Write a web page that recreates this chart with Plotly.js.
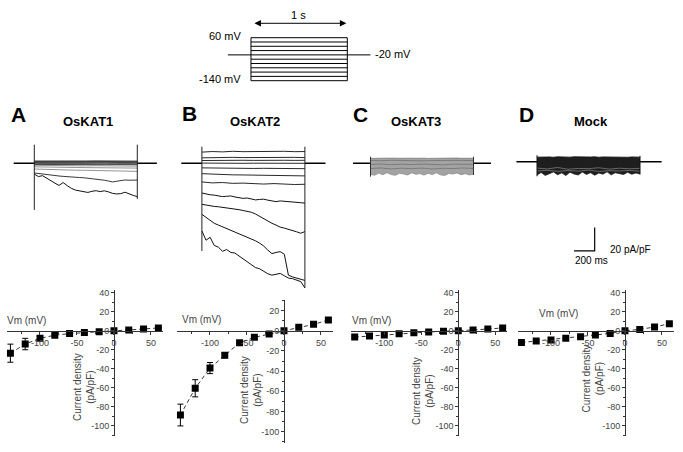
<!DOCTYPE html>
<html>
<head>
<meta charset="utf-8">
<script src="https://cdn.plot.ly/plotly-3.0.1.min.js"></script>
<style>
  body { margin: 0; background: #fff; }
  #fig { width: 683px; height: 452px; }
</style>
</head>
<body>
<div id="fig"></div>
<script>
// ---- voltage protocol ----
var protoSteps = [60, 40, 20, 0, -20, -40, -60, -80, -100, -120, -140];
var protoHold = -20;
var protoPulse = [0, 1];
var protoPre = [-0.24, 0];
var protoPost = [1, 1.24];

// ---- current traces (pA/pF vs s) ----
var tFine = [0,0.04,0.08,0.12,0.16,0.2,0.24,0.28,0.32,0.36,0.4,0.44,0.48,0.52,0.56,0.6,0.64,0.68,0.72,0.76,0.8,0.84,0.88,0.92,0.96,1];
var tCoarse = [0,0.1,0.2,0.3,0.4,0.5,0.6,0.7,0.8,0.9,1];

// OsKAT1
var a0 = [2.0,1.9,2.1,2.0,1.9,2.0,2.1,1.9,2.0,2.0,1.9];
var a1 = [1.5,1.4,1.6,1.5,1.4,1.5,1.6,1.4,1.5,1.5,1.4];
var a2 = [0.8,0.9,0.8,1.0,0.9,0.8,0.9,1.0,0.8,0.9,0.9];
var a3 = [0.3,0.2,0.4,0.3,0.2,0.3,0.4,0.3,0.2,0.3,0.3];
var a4 = [-0.4,-0.3,-0.5,-0.4,-0.3,-0.4,-0.5,-0.3,-0.4,-0.4,-0.5];
var a5 = [-1.0,-1.1,-0.9,-1.1,-1.2,-1.0,-1.1,-1.2,-1.1,-1.2,-1.2];
var a6 = [-1.7,-1.9,-2.0,-2.0,-2.1,-2.2,-2.1,-2.3,-2.2,-2.3,-2.4];
var a7 = [-3.0,-3.3,-3.4,-3.5,-3.6,-3.7,-3.8,-3.9,-4.0,-4.0,-4.1];
var a8 = [-4.9,-5.3,-5.5,-5.7,-5.9,-6.0,-6.2,-6.4,-6.6,-6.7,-6.9];
var a9 = [-8.3,-8.8,-9.4,-9.5,-9.9,-10.6,-10.9,-11.2,-11.3,-11.6,-12.0,-12.2,-12.4,-12.8,-13.0,-13.3,-13.9,-14.5,-15.2,-16.0,-15.4,-14.6,-14.3,-14.5,-14.2,-14.4];
var a10 = [-9.2,-11.4,-10.6,-12.5,-15.0,-17.0,-19.0,-16.5,-19.2,-21.5,-23.0,-23.5,-24.5,-25.0,-24.0,-23.5,-24.3,-23.6,-24.5,-25.8,-26.3,-26.0,-24.8,-26.5,-27.5,-28.6];
var spikeA = [[16, -40], [16, -30.6]];

// OsKAT2
var b0 = [9.6,10.1,9.8,10.3,10.0,10.2,9.9,10.1,10.3,10.0,10.1];
var b1 = [4.7,5.0,4.8,5.1,4.9,5.0,5.2,4.9,5.0,5.1,4.9];
var b2 = [2.4,2.6,2.5,2.4,2.6,2.5,2.7,2.5,2.6,2.5,2.6];
var b3 = [0.2,0,0.1,-0.1,0,0.1,0,-0.1,0.1,0,0];
var b4 = [-3.9,-4.1,-4.2,-4.3,-4.2,-4.4,-4.3,-4.5,-4.4,-4.5,-4.6];
var b5 = [-8.9,-9.4,-9.6,-9.9,-10.0,-10.2,-10.1,-10.4,-10.5,-10.6,-10.8];
var b6 = [-16.0,-16.8,-16.5,-17.2,-17.0,-17.5,-17.8,-17.4,-18.0,-18.2,-18.0];
var b7 = [-25.5,-26.4,-27.0,-27.3,-27.8,-28.6,-28.3,-28.0,-28.9,-29.6,-30.1,-29.8,-30.6,-31.4,-31.0,-30.8,-31.6,-32.4,-32.9,-32.3,-32.5,-32.9,-33.2,-33.0,-33.8,-34.2];
var b8 = [-35.2,-36.0,-36.5,-37.0,-37.3,-37.8,-38.0,-38.3,-39.2,-39.8,-40.5,-41.0,-42.0,-43.5,-45.5,-47.8,-49.5,-51.5,-53.0,-54.8,-55.6,-56.5,-57.8,-58.8,-60.0,-58.6];
var b9 = [-43.8,-46.5,-49.0,-51.5,-53.0,-54.5,-56.0,-57.0,-58.5,-60.0,-61.5,-63.0,-65.0,-66.5,-68.5,-71.0,-74.5,-77.5,-76.5,-75.8,-78.0,-96.0,-97.5,-98.5,-99.0,-100.5];
var b10 = [-58.0,-66.0,-63.5,-70.5,-72.0,-75.5,-74.0,-76.5,-77.0,-79.5,-81.5,-84.5,-87.0,-89.5,-90.5,-93.0,-94.8,-96.0,-95.2,-94.5,-96.5,-98.5,-99.0,-100.5,-101.5,-107.0];
var spikeB = [[14.3, -75.3], [14.3, -106.7]];

// OsKAT3 (band of overlapping traces)
var cTop = [4.2,4.5,4.3,4.4,4.2,4.5,4.4,4.3,4.5,4.2,4.4,4.3,4.5,4.4,4.2,4.3,4.5,4.4,4.3,4.2,4.4,4.5,4.3,4.4,4.2,4.3];
var cBot = [-9.5,-10.2,-8.4,-9.8,-8.0,-9.6,-10.3,-8.6,-9.1,-10.0,-8.2,-9.4,-8.8,-10.1,-8.5,-9.7,-8.1,-9.9,-10.4,-8.7,-9.2,-8.3,-9.8,-8.9,-10.0,-9.3];
var cL1 = [2.5,2.2,2.6,2.3,2.5,2.1,2.4,2.6,2.2,2.5,2.3];
var cL2 = [-1.0,-0.6,-1.2,-0.8,-1.1,-0.7,-1.0,-1.3,-0.8,-1.0,-0.9];
var cL3 = [-4.5,-4.0,-4.8,-4.2,-4.6,-4.1,-4.9,-4.3,-4.5,-4.0,-4.4];
var spikeC = [[5.7, -11.5], [5.7, -10.0]];

// Mock
var dTop = [3.9,4.2,4.0,4.1,3.8,4.2,4.0,4.1,3.9,4.2,4.0,4.1,3.9,4.0,4.2,3.8,4.1,4.0,4.2,3.9,4.1,4.0,3.8,4.1,4.0,3.9];
var dBot = [-11.5,-9.2,-11.8,-10.0,-8.8,-11.2,-9.6,-11.9,-9.0,-10.6,-11.4,-8.9,-10.9,-9.4,-11.6,-9.8,-10.7,-8.7,-11.3,-9.5,-10.4,-11.0,-9.1,-10.8,-9.7,-10.5];
var dL1 = [-5.5,-6.2,-5.0,-6.5,-5.8,-6.0,-5.2,-6.4,-5.6,-6.1,-5.7];
var dL2 = [-8.0,-7.4,-8.3,-7.6,-8.1,-7.2,-8.4,-7.7,-8.0,-7.5,-8.2];
var spikeD = [[5.5, -12.5], [5.0, -11.0]];

var holdA = [-0.2, 1.19], holdB = [-0.2, 1.2], holdC = [-0.17, 1.17], holdD = [-0.2, 1.21];
var scaleT = [0.36, 0.56, 0.56];
var scaleI = [-76.5, -76.5, -56.5];

// ---- I-V curves ----
var vm = [-140, -120, -100, -80, -60, -40, -20, 0, 20, 40, 60];
var ivA = [-23.5, -13.9, -7.9, -4.6, -2.9, -1.7, -0.9, 0, 0.9, 1.8, 3.0];
var errA = [9.5, 6, 2.2, 1, 0.6, 0.5, 0.3, 0.3, 0.3, 0.4, 0.5];
var ivB = [-83.5, -57, -37, -24.4, -11.9, -6.6, -3.3, 0, 3.4, 6.3, 10.6];
var errB = [10.8, 8.5, 5.5, 2.5, 1.2, 0.8, 0.5, 0.3, 0.5, 0.8, 1];
var ivC = [-6.6, -5.4, -4.4, -3.0, -2.0, -1.2, -0.5, 0, 0.9, 1.9, 3.0];
var errC = [1, 0.8, 0.7, 0.5, 0.4, 0.3, 0.3, 0.2, 0.3, 0.4, 0.5];
var ivD = [-12.3, -10.6, -9.6, -7.9, -6.1, -4.4, -2.7, 0, 1.5, 4.0, 7.5];
var errD = [1.2, 1, 0.9, 0.8, 0.6, 0.5, 0.4, 0.3, 0.4, 0.5, 0.8];

var data = [];
function line(ax, x, y, color, width, extra) {
  var t = {x: x, y: y, xaxis: 'x' + ax, yaxis: 'y' + ax, mode: 'lines',
           line: {color: color, width: width}, hoverinfo: 'skip'};
  if (extra) for (var k in extra) t[k] = extra[k];
  data.push(t);
}

// protocol
protoSteps.forEach(function (v) { line('', protoPulse, [v, v], '#000', 1); });
line('', [0, 0], [protoSteps[10], protoSteps[0]], '#000', 1);
line('', [1, 1], [protoSteps[10], protoSteps[0]], '#000', 1);
line('', protoPre, [protoHold, protoHold], '#000', 1);
line('', protoPost, [protoHold, protoHold], '#000', 1);

function holding(ax, h) {
  line(ax, [h[0], 0], [0, 0], '#000', 1.5);
  line(ax, [1, h[1]], [0, 0], '#000', 1.5);
}
function spikes(ax, s, c) {
  line(ax, [0, 0], s[0], c, 1);
  line(ax, [1, 1], s[1], c, 1);
}

// A
[a0, a1, a2, a3, a4, a5].forEach(function (y) { line(2, tCoarse, y, '#333', 0.9); });
[a6, a7, a8].forEach(function (y) { line(2, tCoarse, y, '#777', 0.8); });
line(2, tFine, a9, '#222', 0.9);
line(2, tFine, a10, '#111', 1);
holding(2, holdA); spikes(2, spikeA, '#222');

// B
[b0, b1, b2, b3, b4, b5, b6].forEach(function (y) { line(3, tCoarse, y, '#111', 0.9); });
[b7, b8, b9, b10].forEach(function (y) { line(3, tFine, y, '#111', 1); });
holding(3, holdB); spikes(3, spikeB, '#222');

// C
line(4, tFine, cBot, '#8c8c8c', 0.8);
line(4, tFine, cTop, '#777', 0.8, {fill: 'tonexty', fillcolor: '#a3a3a3'});
[cL1, cL2, cL3].forEach(function (y) { line(4, tCoarse, y, '#6a6a6a', 0.7); });
holding(4, holdC); spikes(4, spikeC, '#333');

// D
line(5, tFine, dBot, '#222', 0.8);
line(5, tFine, dTop, '#111', 0.8, {fill: 'tonexty', fillcolor: '#1e1e1e'});
[dL1, dL2].forEach(function (y) { line(5, tCoarse, y, '#9a9a9a', 0.6); });
holding(5, holdD); spikes(5, spikeD, '#111');
line(5, scaleT, scaleI, '#000', 1.2);

// IV curves
[[6, ivA, errA], [7, ivB, errB], [8, ivC, errC], [9, ivD, errD]].forEach(function (p) {
  data.push({
    x: vm, y: p[1], xaxis: 'x' + p[0], yaxis: 'y' + p[0],
    mode: 'lines+markers', hoverinfo: 'skip',
    line: {color: '#000', width: 0.8, dash: '4px,3px'},
    marker: {symbol: 'square', size: 7, color: '#000'},
    error_y: {type: 'data', array: p[2], visible: true, color: '#000', thickness: 1, width: 3}
  });
});

var W = 683, H = 452;
function px(a, b) { return [a / W, b / W]; }
function py(top, bot) { return [1 - bot / H, 1 - top / H]; }
function hidden(dom, range) { return {domain: dom, range: range, visible: false, fixedrange: true}; }

var tickFont = {family: 'Liberation Sans, Arial, sans-serif', size: 9, color: '#444'};
function ivX(dom, posPx) {
  return {domain: dom, range: [-145, 66], anchor: 'free', position: 1 - posPx / H,
    showline: true, linecolor: '#333', linewidth: 1, showgrid: false, zeroline: false,
    ticks: 'outside', ticklen: 3, tickcolor: '#333',
    tickvals: [-100, -50, 0, 50], ticktext: ['-100', '-50', '0', '50'], tickfont: tickFont,
    minor: {ticks: 'outside', ticklen: 2, dtick: 25, tickcolor: '#333'}};
}
function ivY(dom, range, posPx, vals) {
  return {domain: dom, range: range, anchor: 'free', position: posPx / W,
    showline: true, linecolor: '#333', linewidth: 1, showgrid: false, zeroline: false,
    ticks: 'outside', ticklen: 3, tickcolor: '#333',
    tickvals: vals, ticktext: vals.map(function (v) { return String(v); }), tickfont: tickFont,
    minor: {ticks: 'outside', ticklen: 2, dtick: 10, tickcolor: '#333'}};
}
var yValsTall = [40, 20, 0, -20, -40, -60, -80, -100];
var yValsB = [20, 0, -20, -40, -60, -80, -100];

var trY = py(135, 298);
var trRange = [-115.6, 24.3];
var ivDom = py(289.9, 435.5);

var layout = {
  width: W, height: H, margin: {l: 0, r: 0, t: 0, b: 0},
  paper_bgcolor: '#fff', plot_bgcolor: 'rgba(0,0,0,0)', showlegend: false,
  font: {family: 'Liberation Sans, Arial, sans-serif', color: '#000'},
  xaxis: hidden(px(226.9, 371.4), [-0.25, 1.25]),
  yaxis: hidden(py(10, 88), [-174, 188.8]),
  xaxis2: hidden(px(8.55, 163.05), [-0.25, 1.25]), yaxis2: hidden(trY, trRange),
  xaxis3: hidden(px(176.15, 330.65), [-0.25, 1.25]), yaxis3: hidden(trY, trRange),
  xaxis4: hidden(px(344.75, 499.25), [-0.25, 1.25]), yaxis4: hidden(trY, trRange),
  xaxis5: hidden(px(511.25, 665.75), [-0.25, 1.25]), yaxis5: hidden(trY, [-117, 22.9]),
  xaxis6: ivX(px(6.7, 162.8), 330.8), yaxis6: ivY(ivDom, [-110, 43], 114, yValsTall),
  xaxis7: ivX(px(176.7, 332.8), 330.7), yaxis7: ivY(py(300.4, 442.8), [-111, 30], 284, yValsB),
  xaxis8: ivX(px(351, 507.1), 330.8), yaxis8: ivY(ivDom, [-110, 43], 458.3, yValsTall),
  xaxis9: ivX(px(517.7, 673.8), 331), yaxis9: ivY(ivDom, [-110, 43], 625, yValsTall),
  annotations: []
};

function txt(x, y, s, size, opts) {
  var a = {xref: 'paper', yref: 'paper', x: x / W, y: 1 - y / H, text: s, showarrow: false,
           xanchor: 'center', yanchor: 'middle', font: {size: size, color: '#000'}};
  if (opts) for (var k in opts) a[k] = opts[k];
  layout.annotations.push(a);
}

// protocol labels and arrow
layout.annotations.push({xref: 'x', yref: 'y', axref: 'x', ayref: 'y', x: 0.99, y: 127, ax: 0.02, ay: 127,
  text: '', showarrow: true, arrowside: 'end+start', arrowhead: 2, startarrowhead: 2,
  arrowsize: 1.3, startarrowsize: 1.3, arrowwidth: 1, arrowcolor: '#000', standoff: 0, startstandoff: 0});
txt(298, 15, '1 s', 11);
txt(243, 36, '60 mV', 11, {xanchor: 'right'});
txt(243, 79, '-140 mV', 11, {xanchor: 'right'});
txt(373, 54, '-20 mV', 11, {xanchor: 'left'});

// panel letters and titles
var letterFont = 21;
txt(18, 114, '<b>A</b>', letterFont);
txt(189.5, 113, '<b>B</b>', letterFont);
txt(360, 114, '<b>C</b>', letterFont);
txt(526.7, 114, '<b>D</b>', letterFont);
txt(87.5, 122, '<b>OsKAT1</b>', 13);
txt(255.3, 121, '<b>OsKAT2</b>', 13);
txt(416, 122, '<b>OsKAT3</b>', 13);
txt(591.3, 121, '<b>Mock</b>', 13);

// scale bar labels
txt(608, 249, '20 pA/pF', 10, {xanchor: 'left'});
txt(591.5, 260, '200 ms', 10);

// IV axis labels
var labFont = 10;
[[26.5, 320, 84, 387], [201.5, 319, 251, 390], [371.5, 320, 423, 391], [558, 313, 592.5, 379]].forEach(function (p) {
  txt(p[0], p[1], 'Vm (mV)', labFont, {font: {size: labFont, color: '#444'}});
  txt(p[2], p[3], 'Current density<br>(pA/pF)', labFont, {textangle: -90, font: {size: labFont, color: '#444'}});
});

Plotly.newPlot('fig', data, layout, {staticPlot: true});
</script>
</body>
</html>
